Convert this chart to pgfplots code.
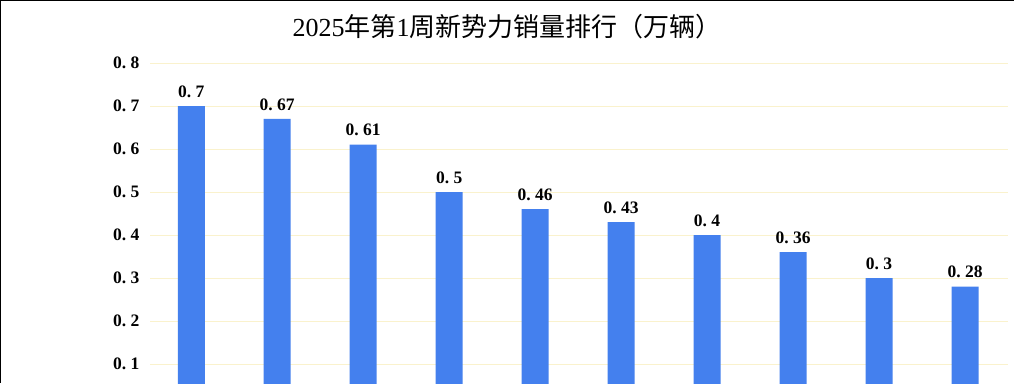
\documentclass[border=0pt]{standalone}
\usepackage{pgfplots}
\pgfplotsset{compat=1.18}
\usepackage{fontspec}
\setmainfont{Liberation Serif}
\newfontfamily\cjk{Noto Sans CJK SC}
\definecolor{barblue}{RGB}{68,128,238}
\definecolor{gridy}{RGB}{250,242,205}
\begin{document}
\begin{tikzpicture}[x=1pt,y=1pt]
\useasboundingbox (0,0) rectangle (1014,383);
\fill[white] (0,0) rectangle (1014,383);
\begin{axis}[
  at={(150pt,-24pt)}, anchor=south west,
  scale only axis, width=858pt, height=344pt,
  xmin=-0.48, xmax=9.5, ymin=0, ymax=0.8,
  axis line style={draw=none},
  xtick=\empty,
  ytick={0.1,0.2,0.3,0.4,0.5,0.6,0.7,0.8},
  ymajorgrids, grid style={gridy, line width=0.8pt},
  major tick length=0pt,
  /pgf/number format/assume math mode=true,
  /pgf/number format/fixed, /pgf/number format/precision=2,
  /pgf/number format/set decimal separator={.\ },
  yticklabel style={font=\fontsize{17.5}{20}\selectfont\bfseries, xshift=-7pt},
  ybar, bar width=27pt,
  nodes near coords,
  nodes near coords style={font=\fontsize{17.5}{20}\selectfont\bfseries, text=black, yshift=5pt},
  clip=false,
]
\addplot[fill=barblue, draw=none] coordinates {
(0,0.7) (1,0.67) (2,0.61) (3,0.5) (4,0.46) (5,0.43) (6,0.4) (7,0.36) (8,0.3) (9,0.28)};
\end{axis}
\node[font=\fontsize{26}{30}\selectfont] at (507,356) {2025{\cjk 年第}1{\cjk 周新势力销量排行（万辆）}};
\draw[black, line width=2pt] (0,0) -- (0,383);
\draw[black, line width=1.5pt] (0,383) -- (1014,383);
\end{tikzpicture}
\end{document}
